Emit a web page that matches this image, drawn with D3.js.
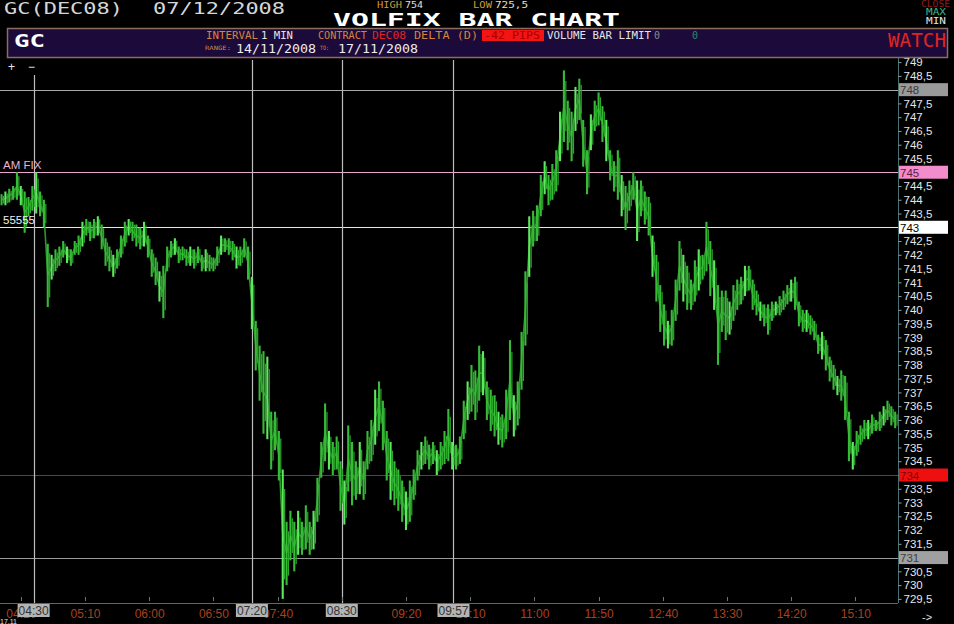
<!DOCTYPE html>
<html><head><meta charset="utf-8">
<script src="https://cdn.jsdelivr.net/npm/d3@7"></script>
<style>html,body{margin:0;padding:0;background:#000;overflow:hidden}svg{display:block}</style>
</head><body>
<svg id="chart" width="954" height="624"></svg>
<script>
// ---------------- DATA ----------------
const barStart = "04:05";      // first 3-minute bar
const barStepMin = 3;
const highs = [
744.2,744.3,744.4,744.5,745.0,744.5,744.3,744.1,744.5,745.0,
744.3,744.0,742.4,742.0,742.2,742.3,742.5,742.3,742.2,742.5,
742.7,743.2,743.3,743.2,743.3,743.4,743.1,742.6,742.3,742.0,
742.2,742.7,743.2,743.3,743.2,743.1,743.0,743.2,742.7,742.2,
741.9,741.4,741.6,742.3,742.5,742.6,742.3,742.3,742.2,742.3,
742.2,742.3,742.0,742.2,742.0,741.9,742.3,742.7,742.6,742.6,
742.5,742.3,742.3,742.6,742.3,741.2,739.6,738.7,738.5,738.3,
736.3,736.3,735.6,734.2,732.3,732.7,732.3,732.7,732.3,732.9,
732.3,732.7,733.9,735.2,736.6,735.6,735.2,735.4,734.5,733.8,
735.8,735.2,734.5,735.2,734.5,735.6,736.0,737.1,737.4,736.7,
735.6,735.2,734.5,734.2,733.8,733.4,733.8,734.2,734.9,735.2,
735.4,735.1,735.2,734.9,735.2,735.6,736.4,735.2,735.1,735.4,
736.7,737.4,738.0,737.8,738.7,738.5,737.4,737.1,736.9,736.3,
736.2,737.1,738.9,736.9,737.4,739.2,741.4,743.4,743.6,743.8,
744.9,745.4,744.9,745.3,745.8,747.2,748.7,747.6,747.2,748.1,
748.4,746.9,745.8,747.1,747.6,747.9,747.4,746.9,745.8,745.4,
745.8,744.9,744.5,744.7,745.0,744.7,744.7,744.3,744.1,742.7,
742.0,740.9,740.2,739.6,740.0,741.1,742.5,742.0,741.6,741.1,
741.8,742.2,742.0,743.2,742.5,741.8,740.9,740.7,740.7,740.3,
740.9,741.1,741.2,741.6,741.6,741.1,740.7,740.3,740.2,740.2,
740.3,740.3,740.5,740.7,740.9,741.1,741.2,740.3,740.0,740.0,
739.8,739.6,739.1,739.2,738.9,738.3,738.0,737.6,737.8,737.6,
736.3,735.2,735.6,735.8,736.0,736.0,736.2,736.0,736.3,736.5,
736.7,736.5,736.3];
const lows = [
743.8,743.8,743.9,744.0,744.0,743.8,742.8,743.4,743.6,743.5,
743.4,743.0,740.1,741.1,741.4,741.6,741.9,741.7,741.6,742.0,
742.0,742.3,742.7,742.5,742.6,742.7,742.2,741.6,741.4,741.2,
741.5,741.9,742.3,742.7,742.5,742.3,742.2,742.3,741.9,741.2,
740.9,740.3,739.7,741.4,741.9,742.0,741.7,741.8,741.6,741.6,
741.5,741.7,741.4,741.4,741.4,741.4,741.6,742.0,742.1,742.0,
741.8,741.5,741.6,741.9,741.1,739.3,737.8,736.7,735.5,735.3,
734.2,734.9,733.8,729.5,730.0,730.9,730.5,731.1,731.1,731.3,
731.1,731.3,732.3,733.9,734.5,734.2,734.0,734.2,732.7,732.2,
733.4,732.9,733.1,733.3,733.1,734.2,734.5,735.1,735.6,734.9,
733.8,733.1,732.9,732.7,732.3,732.0,732.3,733.1,733.8,734.2,
734.4,734.2,734.4,734.0,734.2,734.4,734.5,734.2,734.2,734.4,
735.3,736.0,736.3,736.0,736.7,736.9,736.0,735.6,735.4,735.1,
735.0,735.3,736.0,735.4,735.8,737.1,738.7,741.2,742.3,742.5,
743.4,744.2,743.8,744.0,744.3,745.4,746.1,745.8,745.4,746.5,
746.9,745.2,744.2,745.8,746.5,746.7,746.1,745.4,744.7,744.3,
744.0,743.4,742.9,743.6,744.0,742.5,743.4,743.1,742.7,741.2,
740.3,739.2,738.7,738.6,738.7,739.6,740.7,740.3,740.0,740.0,
740.3,740.7,741.1,741.4,740.5,740.0,738.0,739.2,738.9,739.1,
739.6,740.0,740.2,740.5,740.7,740.0,739.8,739.6,739.4,739.1,
739.6,739.8,739.8,740.0,740.2,740.3,740.0,739.4,739.2,739.2,
739.1,738.9,738.4,738.2,737.8,737.4,737.1,736.9,736.7,736.0,
734.5,734.2,734.7,735.1,735.3,735.3,735.5,735.6,735.6,735.8,
736.0,735.8,735.7];

const yTickValues = [729.5,730,730.5,731,731.5,732,732.5,733,733.5,734,734.5,735,735.5,736,736.5,737,737.5,738,738.5,739,739.5,740,740.5,741,741.5,742,742.5,743,743.5,744,744.5,745,745.5,746,746.5,747,747.5,748,748.5,749];
const xTickLabels = ["04:20","05:10","06:00","06:50","07:40","08:30","09:20","10:10","11:00","11:50","12:40","13:30","14:20","15:10"];

const markerPrices = [748, 745, 743, 734, 731];
const markerNames  = ["", "AM FIX", "55555", "", ""];
const markerTimes  = ["04:30", "07:20", "08:30", "09:57"];

const symbol = "GC(DEC08)", printDate = "07/12/2008";
const highValue = "754", lowValue = "725,5";
const rangeFrom = "14/11/2008", rangeTo = "17/11/2008";
const dayLabel = "17.11";

// ---------------- STYLE ----------------
const markerStyle = {
  748: {line:"#a8a8a8", box:"#9a9a9a", text:"#3a3a3a"},
  745: {line:"#e8a8d0", box:"#f28ccb", text:"#5a2040"},
  743: {line:"#e8e8e8", box:"#ffffff", text:"#000000"},
  734: {line:"#c81414", box:"#ee1010", text:"#8a0000"},
  731: {line:"#9a9a9a", box:"#a0a0a0", text:"#404040"}
};
const MONO = "'DejaVu Sans Mono', monospace";
const SANS = "'Liberation Sans', Arial, sans-serif";

const svg = d3.select("#chart");
svg.append("rect").attr("width",954).attr("height",624).attr("fill","#000");

const toMin = s => { const [h,m] = s.split(":").map(Number); return h*60+m; };
const x = d3.scaleLinear().domain([243.8, 943.2]).range([0, 898]);
const y = d3.scaleLinear().domain([729.35, 749.15]).range([603, 58]);
const plotRight = 898;

// ---------------- GRID / MARKERS ----------------
const gMark = svg.append("g");
markerPrices.forEach(p => {
  gMark.append("line").attr("x1",0).attr("x2",plotRight)
    .attr("y1",Math.round(y(p))+0.5).attr("y2",Math.round(y(p))+0.5)
    .attr("stroke",markerStyle[p].line).attr("stroke-width",1.2);
});
markerTimes.forEach((t,i) => {
  const xx = Math.round(x(toMin(t)))+0.5;
  gMark.append("line").attr("x1",xx).attr("x2",xx).attr("y1", i===0 ? 75 : 60).attr("y2",603)
    .attr("stroke","#bdbdbd").attr("stroke-width",1.2);
});

// ---------------- PRICE BARS ----------------
const t0 = toMin(barStart);
const bars = highs.map((h,i)=>({t: t0 + i*barStepMin, h, l: lows[i]}));
const gBars = svg.append("g");
gBars.append("path")
  .attr("d", d3.line().x(d=>x(d.t)).y(d=>y((d.h+d.l)/2))(bars))
  .attr("fill","none").attr("stroke","#2a9a2a").attr("stroke-width",1.6);
gBars.selectAll("line.bar").data(bars).join("line").attr("class","bar")
  .attr("x1",d=>x(d.t)).attr("x2",d=>x(d.t))
  .attr("y1",d=>y(d.h)).attr("y2",d=>y(d.l))
  .attr("stroke",(d,i)=> i%4===1 ? "#5ee85e" : "#36bb36").attr("stroke-width",2.1);
gBars.selectAll("line.bar2").data(bars).join("line").attr("class","bar2")
  .attr("x1",d=>x(d.t)+1.9).attr("x2",d=>x(d.t)+1.9)
  .attr("y1",d=>y(d.h - (d.h-d.l)*0.15)).attr("y2",d=>y(d.l + (d.h-d.l)*0.15))
  .attr("stroke","#2fa52f").attr("stroke-width",1.2);

// marker names on the left
markerPrices.forEach((p,i)=>{
  if (!markerNames[i]) return;
  svg.append("text").attr("x",3).attr("y",y(p)-3).text(markerNames[i])
    .attr("font-family",SANS).attr("font-size",11.5)
    .attr("fill", p===745 ? "#e6b4d6" : "#f0f0f0");
});

// ---------------- Y AXIS (right) ----------------
const yAxis = d3.axisRight(y).tickValues(yTickValues).tickSize(3).tickPadding(2)
  .tickFormat(v => markerPrices.includes(v) ? "" : String(v).replace(".", ","));
const gy = svg.append("g").attr("transform",`translate(${plotRight+0.5},0)`).call(yAxis);
gy.select(".domain").attr("stroke","#4a7070").attr("d","M0,57V603");
gy.selectAll(".tick line").attr("stroke","#8aa0a0");
gy.selectAll(".tick text").attr("font-family",SANS).attr("font-size",11.5).attr("fill","#e6e6e6");
markerPrices.forEach(p=>{
  const yy = y(p);
  svg.append("rect").attr("x",899).attr("y",yy-6.5).attr("width",49).attr("height",13)
    .attr("fill",markerStyle[p].box);
  svg.append("text").attr("x",900).attr("y",yy+4.5).text(String(p))
    .attr("font-family",SANS).attr("font-size",11.5).attr("fill",markerStyle[p].text);
});

// ---------------- X AXIS (bottom) ----------------
const xAxis = d3.axisBottom(x).tickValues(xTickLabels.map(toMin)).tickSize(0).tickPadding(6)
  .tickFormat((v,i)=> markerTimes.includes(xTickLabels[i]) ? "" : xTickLabels[i]);
const gx = svg.append("g").attr("transform","translate(0,603.5)").call(xAxis);
gx.select(".domain").attr("stroke","#4a7070").attr("d","M0,0H898");
gx.selectAll(".tick text").attr("font-family",SANS).attr("font-size",12).attr("fill","#a8421e");
xTickLabels.forEach(t=>{
  const xx = Math.round(x(toMin(t)))+0.5;
  svg.append("line").attr("x1",xx).attr("x2",xx).attr("y1",597).attr("y2",601)
    .attr("stroke","#6a7a7a");
});
markerTimes.forEach(t=>{
  const xx = x(toMin(t));
  svg.append("rect").attr("x",xx-16).attr("y",604).attr("width",32).attr("height",13).attr("fill","#b4b4b4");
  svg.append("text").attr("x",xx).attr("y",615).attr("text-anchor","middle").text(t)
    .attr("font-family",SANS).attr("font-size",12).attr("fill","#333");
});
svg.append("text").attr("x",0).attr("y",624).text(dayLabel)
  .attr("font-family",SANS).attr("font-size",7).attr("fill","#e0e0e0");
svg.append("text").attr("x",922).attr("y",621).text("->")
  .attr("font-family",SANS).attr("font-size",11).attr("fill","#e0e0e0");

// ---------------- HEADER ----------------
function txt(s, xx, yy, size, color, opts={}) {
  const t = svg.append("text").attr("x",xx).attr("y",yy).text(s)
    .attr("font-family",opts.family||MONO).attr("font-size",size).attr("fill",color);
  if (opts.len) t.attr("textLength",opts.len).attr("lengthAdjust","spacingAndGlyphs");
  if (opts.bold) t.attr("font-weight","bold");
  return t;
}
txt(symbol, 4, 14, 15, "#d6d6d6", {len:119});
txt(printDate, 153, 14, 15, "#d6d6d6", {len:132});
txt("HIGH", 377, 8, 9, "#d29a3c", {len:25});
txt(highValue, 405, 8, 9, "#e8e0d0", {len:18});
txt("LOW", 473, 8, 9, "#d29a3c", {len:19});
txt(lowValue, 495, 8, 9, "#e8e0d0", {len:33});
txt("VOLFIX BAR CHART", 333, 26, 18, "#ffffff", {len:287, bold:true});
txt("CLOSE", 921, 7, 8, "#8e1c1c", {len:29});
txt("MAX", 926, 15, 9, "#3cb88a", {len:20});
txt("MIN", 926, 24, 9, "#e6e6e6", {len:20});

svg.append("rect").attr("x",7.5).attr("y",28.5).attr("width",940).attr("height",29)
  .attr("fill","#1c0a3a").attr("stroke","#8c6e5e").attr("stroke-width",1.5);
txt("GC", 14, 47, 17, "#ffffff", {len:31, bold:true});
txt("INTERVAL", 206, 39, 11, "#d4843c", {len:52});
txt("1 MIN", 261, 39, 11, "#e4e4e4", {len:32});
txt("CONTRACT", 318, 39, 11, "#d4843c", {len:49});
txt("DEC08", 372, 39, 11, "#e02424", {len:34});
txt("DELTA (D)", 414, 39, 11, "#d4843c", {len:64});
svg.append("rect").attr("x",482).attr("y",30).attr("width",62).attr("height",11).attr("fill","#f41414");
txt("-42 PIPS", 484, 39, 11, "#a80000", {len:56});
txt("VOLUME BAR LIMIT", 547, 39, 11, "#e4e4e4", {len:104});
txt("0", 654, 39, 11, "#8a8a8a", {len:6});
txt("0", 692, 39, 11, "#2a8a6a", {len:6});
txt("RANGE:", 205, 50, 6, "#d4843c", {len:26});
txt(rangeFrom, 236, 53, 13, "#ececec", {len:80});
txt("TO:", 320, 50, 6, "#d4843c", {len:9});
txt(rangeTo, 338, 53, 13, "#ececec", {len:80});
txt("WATCH", 888, 47, 20, "#e02424", {len:58});

txt("+", 8, 71, 12, "#e8e8e8", {family:SANS});
txt("\u2212", 28, 71, 12, "#e8e8e8", {family:SANS});
</script>
</body></html>
